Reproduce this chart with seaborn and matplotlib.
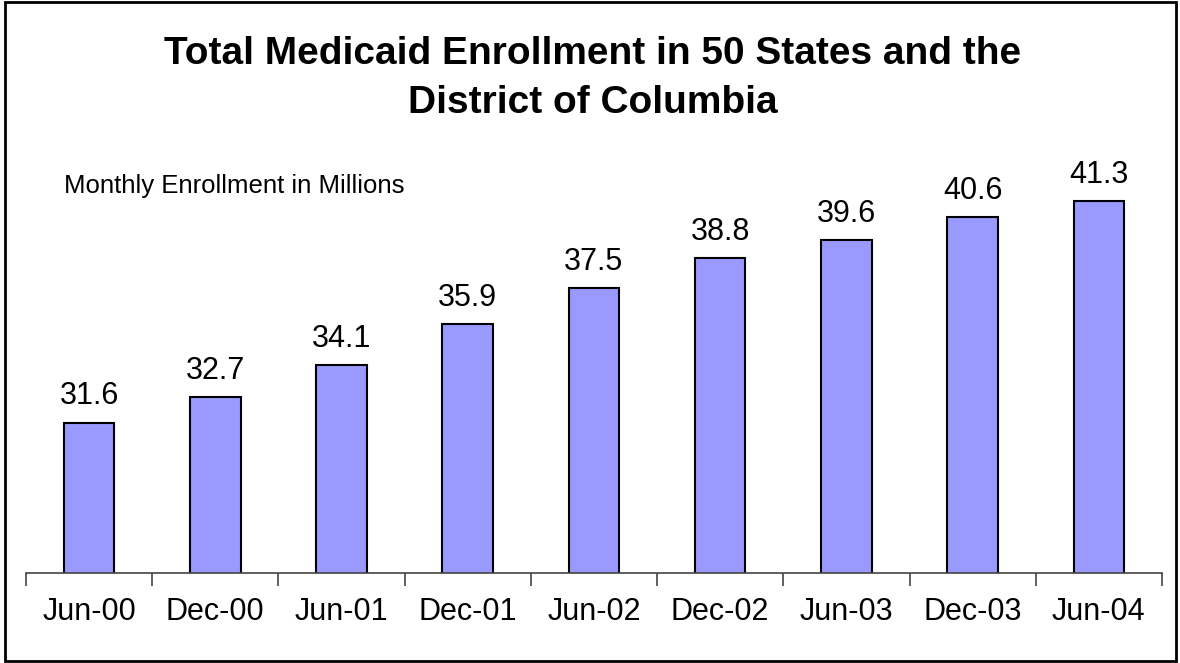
import numpy as np
import pandas as pd
import matplotlib
matplotlib.use('Agg')
import matplotlib.pyplot as plt
import seaborn as sns
from matplotlib.patches import Rectangle

# Data
periods = ['Jun-00', 'Dec-00', 'Jun-01', 'Dec-01', 'Jun-02',
           'Dec-02', 'Jun-03', 'Dec-03', 'Jun-04']
enrollment = [31.6, 32.7, 34.1, 35.9, 37.5, 38.8, 39.6, 40.6, 41.3]

df = pd.DataFrame({'period': periods, 'enrollment': enrollment})

sns.set_style('white')
plt.rcParams['font.family'] = ['Liberation Sans', 'DejaVu Sans']
plt.rcParams['text.color'] = 'black'
plt.rcParams['xtick.color'] = 'black'

fig = plt.figure(figsize=(11.8, 6.63), dpi=100)
ax = fig.add_axes([0.022, 0.1357, 0.9627, 0.688])

sns.barplot(data=df, x='period', y='enrollment', color='#9999FF',
            edgecolor='black', linewidth=1.5, width=0.4, saturation=1, ax=ax)

ax.set_ylim(25, 45)
ax.set_xlim(-0.5, len(periods) - 0.5)

for c in ax.containers:
    ax.bar_label(c, fmt='%.1f', padding=8, fontsize=22, color='black')

# hide everything but the bottom axis line
for side in ['top', 'right', 'left']:
    ax.spines[side].set_visible(False)
ax.spines['bottom'].set_color('#444444')
ax.spines['bottom'].set_linewidth(1.2)
ax.set_yticks([])
ax.set_xlabel('')
ax.set_ylabel('')

# labels centered, tick marks at category boundaries
ax.tick_params(axis='x', which='major', length=0, pad=17, labelsize=22,
               labelcolor='black')
ax.set_xticks(np.arange(-0.5, len(periods)), minor=True)
ax.tick_params(axis='x', which='minor', length=9, width=1.2, color='#444444',
               direction='out', bottom=True)

fig.text(0.502, 0.882, 'Total Medicaid Enrollment in 50 States and the\nDistrict of Columbia',
         ha='center', va='center', fontsize=28, fontweight='bold', linespacing=1.48)
fig.text(0.054, 0.719, 'Monthly Enrollment in Millions', ha='left', va='center',
         fontsize=18.5)

# outer frame
fig.patches.append(Rectangle((0.004, 0.003), 0.993, 0.994, transform=fig.transFigure,
                             fill=False, edgecolor='black', linewidth=2))

fig.savefig('out.png', dpi=100)
